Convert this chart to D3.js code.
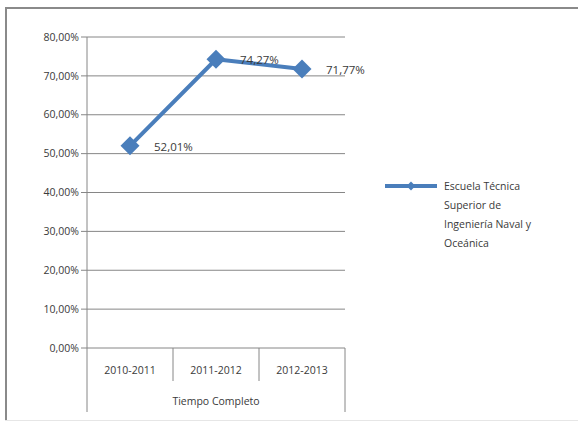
<!DOCTYPE html>
<html><head><meta charset="utf-8">
<script src="https://cdn.jsdelivr.net/npm/d3@7"></script>
<style>body{margin:0;background:#fff}svg{display:block}text{font-family:"Open Sans","Noto Sans",sans-serif;fill:#3a3a3a}</style>
</head><body>
<svg id="c" width="578" height="421"></svg>
<script>
const categories = ["2010-2011", "2011-2012", "2012-2013"];
const groupLabel = "Tiempo Completo";
const values = [52.01, 74.27, 71.77];
const valueLabels = ["52,01%", "74,27%", "71,77%"];
const yTicks = [0, 10, 20, 30, 40, 50, 60, 70, 80];
const seriesName = ["Escuela Técnica", "Superior de", "Ingeniería Naval y", "Oceánica"];

const svg = d3.select("#c");
const fmt = v => d3.format(".2f")(v).replace(".", ",") + "%";
const color = "#4a7ebb";

// frame
svg.append("line").attr("x1", 5).attr("x2", 578).attr("y1", 8).attr("y2", 8).attr("stroke", "#8a8a8a").attr("stroke-width", 2);
svg.append("line").attr("x1", 6).attr("x2", 6).attr("y1", 7).attr("y2", 421).attr("stroke", "#8a8a8a").attr("stroke-width", 2);
svg.append("line").attr("x1", 5).attr("x2", 578).attr("y1", 420.5).attr("y2", 420.5).attr("stroke", "#e6e6e6");

const L = 87, R = 345, T = 37, B = 348;
const x = d3.scaleBand().domain(categories).range([L, R]);
const y = d3.scaleLinear().domain([0, 80]).range([B, T]);

// gridlines
svg.append("g").selectAll("line").data(yTicks).join("line")
  .attr("x1", L - 6).attr("x2", R).attr("y1", d => y(d)).attr("y2", d => y(d))
  .attr("stroke", "#868686").attr("stroke-width", 1);

// y labels
svg.append("g").selectAll("text").data(yTicks).join("text")
  .attr("x", L - 8).attr("y", d => y(d)).attr("dy", "0.35em").attr("text-anchor", "end")
  .attr("font-size", 10.5).text(fmt);

// axes
svg.append("line").attr("x1", L).attr("x2", L).attr("y1", T).attr("y2", 412).attr("stroke", "#868686");
svg.append("line").attr("x1", R).attr("x2", R).attr("y1", B).attr("y2", 412).attr("stroke", "#868686");
svg.append("g").selectAll("line").data(categories.slice(1)).join("line")
  .attr("x1", d => x(d)).attr("x2", d => x(d)).attr("y1", B).attr("y2", 381)
  .attr("stroke", "#868686");

// category labels
svg.append("g").selectAll("text").data(categories).join("text")
  .attr("x", d => x(d) + x.bandwidth() / 2).attr("y", 370).attr("dy", "0.35em")
  .attr("text-anchor", "middle").attr("font-size", 10.5).text(d => d);
svg.append("text").attr("x", (L + R) / 2).attr("y", 401).attr("dy", "0.35em")
  .attr("text-anchor", "middle").attr("font-size", 10.5).text(groupLabel);

// line
const pts = categories.map((c, i) => [x(c) + x.bandwidth() / 2, y(values[i])]);
svg.append("path").attr("d", d3.line()(pts)).attr("fill", "none")
  .attr("stroke", color).attr("stroke-width", 4).attr("stroke-linejoin", "round");
const diamond = d3.symbol().type(d3.symbolDiamond2).size(230);
svg.append("g").selectAll("path").data(pts).join("path")
  .attr("transform", d => `translate(${d[0]},${d[1]})`).attr("d", diamond).attr("fill", color);

// data labels
svg.append("g").selectAll("text").data(pts).join("text")
  .attr("x", d => d[0] + 24).attr("y", d => d[1] + 1).attr("dy", "0.35em")
  .attr("font-size", 11.5).text((d, i) => valueLabels[i]);

// legend
svg.append("line").attr("x1", 385).attr("x2", 437).attr("y1", 186).attr("y2", 186)
  .attr("stroke", color).attr("stroke-width", 4);
svg.append("path").attr("transform", "translate(411,186)")
  .attr("d", d3.symbol().type(d3.symbolDiamond2).size(50)).attr("fill", color);
svg.append("g").selectAll("text").data(seriesName).join("text")
  .attr("x", 444).attr("y", (d, i) => 186 + i * 19).attr("dy", "0.35em")
  .attr("font-size", 10.5).text(d => d);
</script>
</body></html>
